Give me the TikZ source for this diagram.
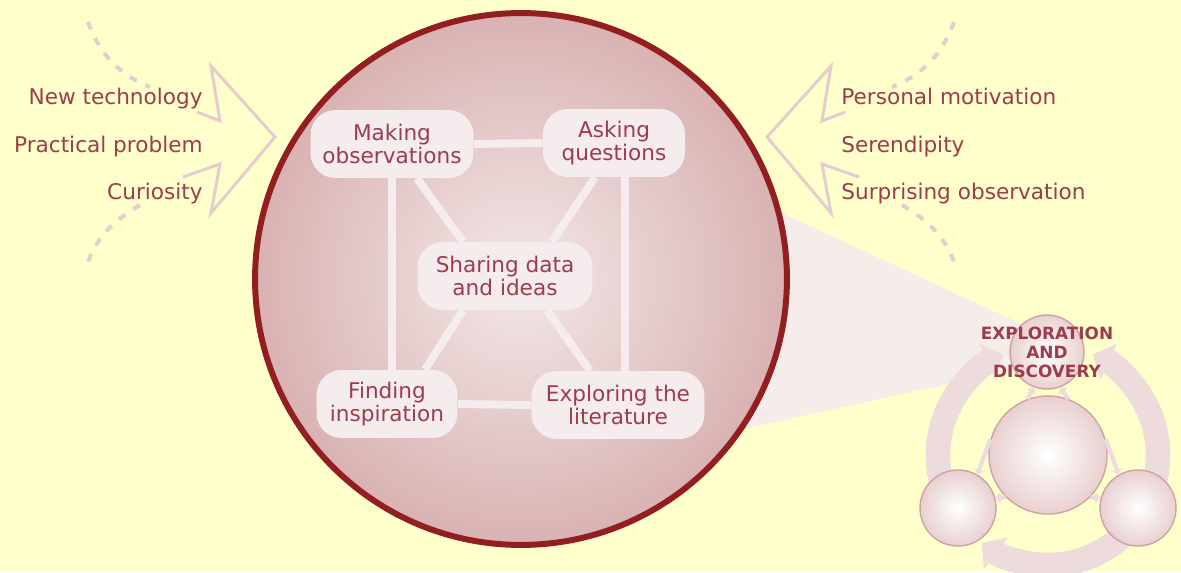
\documentclass[tikz,border=0pt]{standalone}
\usepackage{fontspec}
\setmainfont{DejaVu Sans}
\usetikzlibrary{arrows.meta}

\definecolor{paper}{HTML}{FFFFCC}
\definecolor{ink}{HTML}{9C3C4C}
\definecolor{rim}{HTML}{921E22}
\definecolor{discin}{HTML}{F3E8E8}
\definecolor{discout}{HTML}{D9B2B2}
\definecolor{pale}{HTML}{F5EDED}
\definecolor{chevron}{HTML}{E6CCCC}
\definecolor{wedge}{HTML}{F4EDEA}
\definecolor{ringc}{HTML}{EEDCDC}
\definecolor{ballrim}{HTML}{CFA2A2}
\definecolor{ballout}{HTML}{E9D0D0}

\begin{document}
\begin{tikzpicture}[x=0.02cm, y=-0.02cm, >={Triangle[length=10pt,width=22pt]},
  stage/.style={rounded corners=0.5cm, fill=pale, text=ink, align=center, inner sep=0pt, minimum height=1.36cm, font=\fontsize{12.3}{12.6}\selectfont},
  cue/.style={text=ink, font=\fontsize{12.3}{14}\selectfont, inner sep=0pt},
  link/.style={draw=pale, line width=4.5pt},
  chev/.style={draw=chevron, line width=1.7pt},
  trail/.style={draw=chevron, line width=2.3pt, dash pattern=on 4.5pt off 5.5pt},
  ball/.style={circle, draw=ballrim, line width=0.8pt, shade, inner color=white, outer color=ballout},
  loop/.style={draw=ringc, line width=14pt, ->},
  nudge/.style={draw=ringc, line width=2.5pt, -{Triangle[length=3pt,width=6pt]}}]

\useasboundingbox (0,0) rectangle (1181,572);
\fill[paper] (0,0) rectangle (1181,572);

% zoom wedge towards the small diagram
\fill[wedge] (700,175) -- (1030,328) -- (1030,366) -- (680,443) -- cycle;

\node[circle, draw=rim, line width=3.4pt, shade, inner color=discin, outer color=discout, minimum size=10.64cm] (disc) at (521,279) {};

\node[stage, minimum width=3.26cm] (obs) at (392,144) {Making\\observations};
\node[stage, minimum width=2.84cm] (ask) at (614,143) {Asking\\questions};
\node[stage, minimum width=3.5cm] (share) at (505,276) {Sharing data\\and ideas};
\node[stage, minimum width=2.82cm] (ins) at (387,404) {Finding\\inspiration};
\node[stage, minimum width=3.46cm] (lit) at (618,405) {Exploring the\\literature};

\draw[link] (obs.east) -- (ask.west);
\draw[link] (ins.east) -- (lit.west);
\draw[link] (obs.south) -- (obs.south |- ins.north);
\draw[link] ([xshift=0.22cm]ask.south) -- ([xshift=0.22cm]ask.south |- lit.north);
\draw[link] ([xshift=0.5cm]obs.south) -- ([xshift=-0.84cm]share.north);
\draw[link] ([xshift=-0.38cm]ask.south) -- ([xshift=0.94cm]share.north);
\draw[link] ([xshift=-0.84cm]share.south) -- ([xshift=0.76cm]ins.north);
\draw[link] ([xshift=0.84cm]share.south) -- ([xshift=-0.56cm]lit.north);

% incoming chevrons, left and mirrored right
\foreach \sx/\dx in {1/0, -1/1042}{
  \begin{scope}[shift={(\dx,0)}, xscale=\sx]
    \draw[trail] (88,22) .. controls (100,55) and (120,75) .. (150,87);
    \draw[trail] (140,205) .. controls (115,220) and (98,235) .. (88,262);
    \draw[chev] (197,112) -- (220,121) -- (211,66) -- (275,137) -- (211,213) -- (220,164) -- (183,177);
  \end{scope}
}

\node[cue, anchor=base east] (tech) at (203,104) {New technology};
\node[cue, anchor=base east] (problem) at (203,152) {Practical problem};
\node[cue, anchor=base east] (curious) at (203,199) {Curiosity};
\node[cue, anchor=base west] (motive) at (841,104) {Personal motivation};
\node[cue, anchor=base west] (luck) at (841,152) {Serendipity};
\node[cue, anchor=base west] (surprise) at (841,199) {Surprising observation};

% small cycle diagram
\coordinate (hub) at (1048,455);
\draw[loop] ([shift={(-210:110)}]hub) arc[start angle=-210, end angle=-114, radius=110];
\draw[loop] ([shift={(30:110)}]hub) arc[start angle=30, end angle=-66, radius=110];
\draw[loop] ([shift={(35:110)}]hub) arc[start angle=35, end angle=127, radius=110];

\node[ball, minimum size=2.36cm] (core) at (hub) {};
\node[ball, minimum size=1.48cm] (explore) at (1047,352) {};
\node[ball, minimum size=1.52cm] (leftball) at (958,508) {};
\node[ball, minimum size=1.52cm] (rightball) at (1138,508) {};

\draw[nudge] (core.110) -- (explore.250);
\draw[nudge] (core.70) -- (explore.290);
\draw[nudge] (core.165) -- (leftball.60);
\draw[nudge] (core.225) -- (leftball.15);
\draw[nudge] (core.15) -- (rightball.120);
\draw[nudge] (core.-45) -- (rightball.165);

\node[text=ink, font=\bfseries\fontsize{9.6}{10.8}\selectfont, align=center] (exploretext) at (explore) {EXPLORATION\\AND\\DISCOVERY};

\end{tikzpicture}
\end{document}
